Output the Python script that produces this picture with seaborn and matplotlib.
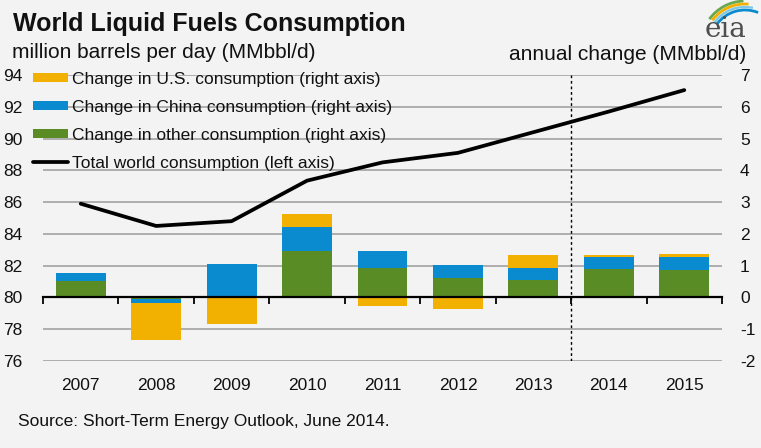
import numpy as np
import pandas as pd
import matplotlib
matplotlib.use("Agg")
import matplotlib.pyplot as plt
import seaborn as sns
from matplotlib.patches import Patch, Arc
from matplotlib.lines import Line2D

# ---------------- data ----------------
years = ["2007", "2008", "2009", "2010", "2011", "2012", "2013", "2014", "2015"]
us_change = [0.0, -1.16, -0.82, 0.39, -0.27, -0.36, 0.38, 0.05, 0.10]
china_change = [0.25, -0.11, 1.05, 0.78, 0.51, 0.42, 0.39, 0.37, 0.40]
other_change = [0.53, -0.06, 0.0, 1.45, 0.94, 0.60, 0.55, 0.90, 0.87]
total_world = [85.9, 84.5, 84.8, 87.35, 88.5, 89.1, 90.4, 91.7, 93.05]
forecast_start = "2014"
left_ticks = [76, 78, 80, 82, 84, 86, 88, 90, 92, 94]
right_ticks = [-2, -1, 0, 1, 2, 3, 4, 5, 6, 7]

series_names = ["Change in U.S. consumption (right axis)",
                "Change in China consumption (right axis)",
                "Change in other consumption (right axis)"]
line_name = "Total world consumption (left axis)"

C_US = "#F2B100"
C_CHINA = "#0B8BCF"
C_OTHER = "#5A8C25"
BG = "#F3F3F3"
GRID = "#A8A8A8"

sns.set_theme(style="white")
plt.rcParams["font.family"] = ["Liberation Sans", "DejaVu Sans"]

fig = plt.figure(figsize=(7.61, 4.48), dpi=100, facecolor=BG)
W, H = 761, 448
ax = fig.add_axes([43 / W, 1 - 361 / H, (722 - 43) / W, (361 - 75) / H])
ax.set_facecolor("none")
ax2 = ax.twinx()

# ---------- stacked bars (stack order from zero: other, china, us) ----------
df = pd.DataFrame({"year": years, "us": us_change, "china": china_change, "other": other_change})
stack = ["other", "china", "us"]
pos = df[stack].clip(lower=0).cumsum(axis=1)
neg = df[stack].clip(upper=0).cumsum(axis=1)
colors = {"us": C_US, "china": C_CHINA, "other": C_OTHER}
for s in ["us", "china", "other"]:
    for part in (pos, neg):
        sns.barplot(x=df["year"], y=part[s], order=years, color=colors[s],
                    saturation=1, width=0.66, ax=ax, linewidth=0, zorder=2)

ax.set_ylim(right_ticks[0], right_ticks[-1])
ax.set_yticks(right_ticks)
ax.set_yticklabels([str(t) for t in right_ticks])
ax.yaxis.tick_right()
ax.tick_params(axis="y", length=0, labelsize=12.5, pad=13, colors="#111111")
ax.set_xlabel("")
ax.set_ylabel("")
ax.grid(axis="y", color=GRID, linewidth=1.3, zorder=0)
ax.set_axisbelow(True)
for sp in ["top", "left", "right"]:
    ax.spines[sp].set_visible(False)
ax.spines["bottom"].set_position(("data", 0))
ax.spines["bottom"].set_color("black")
ax.spines["bottom"].set_linewidth(1.6)
ax.spines["bottom"].set_zorder(3)
n = len(years)
ax.set_xlim(-0.5, n - 0.5)
ax.set_xticks(np.arange(n + 1) - 0.5)
ax.set_xticklabels([])
ax.tick_params(axis="x", direction="out", length=5, width=1.3, color="black", bottom=True)

# forecast divider
ax.axvline(years.index(forecast_start) - 0.5, color="black", linestyle=(0, (2, 2)),
           linewidth=1.0, zorder=1)

# year labels at the bottom
sec = ax.secondary_xaxis(0)
sec.set_xticks(np.arange(n))
sec.set_xticklabels(years)
sec.tick_params(length=0, labelsize=12.5, pad=12, colors="#111111")
sec.spines["bottom"].set_visible(False)

# ---------- line on left axis ----------
sns.lineplot(x=np.arange(n), y=total_world, ax=ax2, color="black", linewidth=2.7, zorder=5)
ax2.set_ylim(left_ticks[0], left_ticks[-1])
ax2.set_yticks(left_ticks)
ax2.set_yticklabels([str(t) for t in left_ticks])
ax2.yaxis.tick_left()
ax2.tick_params(axis="y", length=0, labelsize=12.5, pad=15, colors="#111111")
ax2.set_ylabel("")
for sp in ax2.spines.values():
    sp.set_visible(False)

# ---------- legend ----------
handles = [Patch(facecolor=C_US, edgecolor="none"),
           Patch(facecolor=C_CHINA, edgecolor="none"),
           Patch(facecolor=C_OTHER, edgecolor="none"),
           Line2D([], [], color="black", linewidth=2.7)]
labels = series_names + [line_name]
leg = fig.legend(handles, labels, loc="upper left", bbox_to_anchor=(33 / W, 1 - 72 / H),
                 frameon=False, fontsize=12.5, handlelength=2.0, handleheight=0.45,
                 handletextpad=0.25, labelspacing=0.74, borderpad=0, borderaxespad=0)
for t in leg.get_texts():
    t.set_color("#111111")

# ---------- texts ----------
fig.text(13 / W, 1 - 24 / H, "World Liquid Fuels Consumption", fontsize=18,
         fontweight="bold", va="center", ha="left", color="#111111")
fig.text(12 / W, 1 - 52 / H, "million barrels per day (MMbbl/d)", fontsize=15,
         va="center", ha="left", color="#111111")
fig.text(746 / W, 1 - 55 / H, "annual change (MMbbl/d)", fontsize=15,
         va="center", ha="right", color="#111111")
fig.text(18 / W, 1 - 421 / H, "Source: Short-Term Energy Outlook, June 2014.", fontsize=12.5,
         va="center", ha="left", color="#111111")

# ---------- eia logo ----------
lax = fig.add_axes([680 / W, 1 - 45 / H, 81 / W, 45 / H])
lax.set_xlim(0, 81)
lax.set_ylim(0, 45)
lax.set_aspect("equal")
lax.axis("off")
lax.text(45.5, 8, "eia", fontsize=20, family="DejaVu Serif", color="#4E4E4E",
         ha="center", va="baseline")
for r, c, lw, t1, t2 in [(44, "#6AA84F", 2.0, 92, 144), (41, "#F2B100", 2.0, 85, 143),
                         (38, "#7CC6E8", 1.6, 78, 144), (35, "#0B8BCF", 2.0, 68, 144)]:
    lax.add_patch(Arc((65, 0), 2 * r, 2 * r, theta1=t1, theta2=t2, color=c, lw=lw,
                      clip_on=False))

fig.savefig("out.png", dpi=100, facecolor=BG)
